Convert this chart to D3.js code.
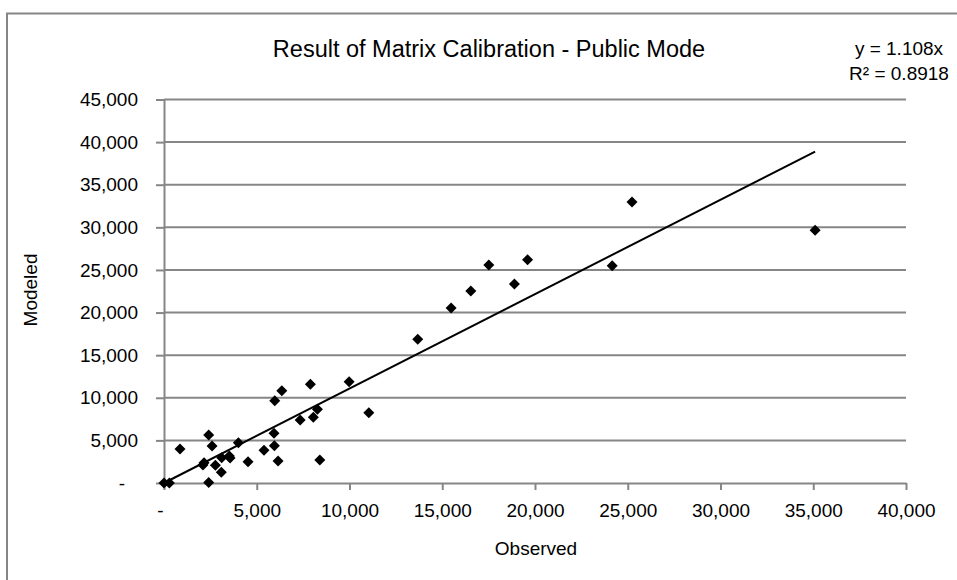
<!DOCTYPE html>
<html>
<head>
<meta charset="utf-8">
<script src="https://cdnjs.cloudflare.com/ajax/libs/d3/7.8.5/d3.min.js"></script>
<style>
  body { margin: 0; background: #fff; }
  text { font-family: "Liberation Sans", Arial, sans-serif; fill: #000; }
</style>
</head>
<body>
<div class="viz1"></div>
<script>
// observed / modeled pairs
var observed = [0, 290, 863, 2410, 2590, 2160, 2100, 2770, 3090, 2410, 3110, 3520, 3560,
                4010, 4530, 5390, 5930, 5950, 6150, 8400, 7340, 8050, 8270, 7890, 9980,
                11040, 5970, 6350, 13680, 15480, 16540, 17510, 18890, 19600, 24160,
                25230, 35100];
var modeled = [0, 0, 3990, 5630, 4340, 2380, 2100, 2080, 1260, 50, 2970, 3170, 2930,
               4730, 2500, 3840, 5830, 4380, 2580, 2700, 7390, 7710, 8650, 11580, 11890,
               8250, 9660, 10830, 16870, 20540, 22540, 25590, 23360, 26210, 25500,
               32980, 29660];
var xTicks = [0, 5000, 10000, 15000, 20000, 25000, 30000, 35000, 40000];
var yTicks = [0, 5000, 10000, 15000, 20000, 25000, 30000, 35000, 40000, 45000];
var slope = 1.108;
var r2 = 0.8918;

var dataset = observed.map(function(d, i) {
    return { x: d, y: modeled[i] };
});

function plotCalibration(dataset) {
    var w = 957;
    var h = 580;
    var plotLeft = 164, plotRight = 906, plotTop = 99.5, plotBottom = 483;
    var gridColor = "#868686";

    var xScale = d3.scaleLinear()
                .domain([0, 40000])
                .range([plotLeft, plotRight]);

    var yScale = d3.scaleLinear()
                .domain([0, 45000])
                .range([plotBottom, plotTop]);

    var fmt = function(d) {
        return d === 0 ? "-" : d3.format(",")(d);
    };

    var svg = d3.select(".viz1")
            .append("svg")
            .attr("width", w)
            .attr("height", h);

    // outer chart border (runs off right/bottom)
    svg.append("rect")
        .attr("x", 7)
        .attr("y", 13.5)
        .attr("width", w + 20)
        .attr("height", h + 20)
        .attr("fill", "none")
        .attr("stroke", gridColor)
        .attr("stroke-width", 2);

    // gridlines
    svg.append("g")
        .selectAll("line")
        .data(yTicks.slice(1))
        .enter()
        .append("line")
        .attr("x1", plotLeft)
        .attr("x2", plotRight)
        .attr("y1", function(d) { return yScale(d); })
        .attr("y2", function(d) { return yScale(d); })
        .attr("stroke", gridColor)
        .attr("stroke-width", 2);

    var xaxis = d3.axisBottom(xScale)
                .tickValues(xTicks)
                .tickSizeInner(7)
                .tickSizeOuter(0)
                .tickPadding(14)
                .tickFormat(fmt);

    var yaxis = d3.axisLeft(yScale)
                .tickValues(yTicks)
                .tickSizeInner(8)
                .tickSizeOuter(0)
                .tickPadding(18)
                .tickFormat(fmt);

    var gx = svg.append("g")
         .attr("class", "x axis")
         .attr("transform", "translate(0," + plotBottom + ")")
         .call(xaxis);

    var gy = svg.append("g")
         .attr("class", "y axis")
         .attr("transform", "translate(" + plotLeft + ",0)")
         .call(yaxis);

    [gx, gy].forEach(function(g) {
        g.select(".domain").attr("stroke", gridColor).attr("stroke-width", 2);
        g.selectAll(".tick line").attr("stroke", gridColor).attr("stroke-width", 2);
        g.selectAll(".tick text")
            .attr("font-family", "Liberation Sans, Arial, sans-serif")
            .attr("font-size", "19px")
            .attr("fill", "#000");
    });

    // accounting style dash sits off the tick
    gx.selectAll(".tick text").filter(function(d) { return d === 0; }).attr("dx", -4);
    gy.selectAll(".tick text").filter(function(d) { return d === 0; }).attr("dx", -13);

    // trendline through origin
    var xMax = d3.max(dataset, function(d) { return d.x; });
    svg.append("line")
        .attr("x1", xScale(0))
        .attr("y1", yScale(0))
        .attr("x2", xScale(xMax))
        .attr("y2", yScale(slope * xMax))
        .attr("stroke", "#000")
        .attr("stroke-width", 2);

    // diamond markers
    svg.selectAll("path.pt")
        .data(dataset)
        .enter()
        .append("path")
        .attr("class", "pt")
        .attr("d", "M0,-5.5L5.5,0L0,5.5L-5.5,0Z")
        .attr("transform", function(d) {
            return "translate(" + xScale(d.x) + "," + yScale(d.y) + ")";
        })
        .attr("fill", "#000");

    // titles
    svg.append("text")
        .attr("x", 489)
        .attr("y", 57)
        .attr("text-anchor", "middle")
        .attr("font-size", "23.5px")
        .text("Result of Matrix Calibration - Public Mode");

    svg.append("text")
        .attr("x", 536)
        .attr("y", 555)
        .attr("text-anchor", "middle")
        .attr("font-size", "19px")
        .text("Observed");

    svg.append("text")
        .attr("transform", "translate(37,290) rotate(-90)")
        .attr("text-anchor", "middle")
        .attr("font-size", "19px")
        .text("Modeled");

    // equation label
    var eq = svg.append("text")
        .attr("text-anchor", "middle")
        .attr("font-size", "19px");
    eq.append("tspan")
        .attr("x", 899)
        .attr("y", 55)
        .text("y = " + slope + "x");
    eq.append("tspan")
        .attr("x", 899)
        .attr("y", 80)
        .text("R\u00b2 = " + r2);
}

plotCalibration(dataset);
</script>
</body>
</html>
